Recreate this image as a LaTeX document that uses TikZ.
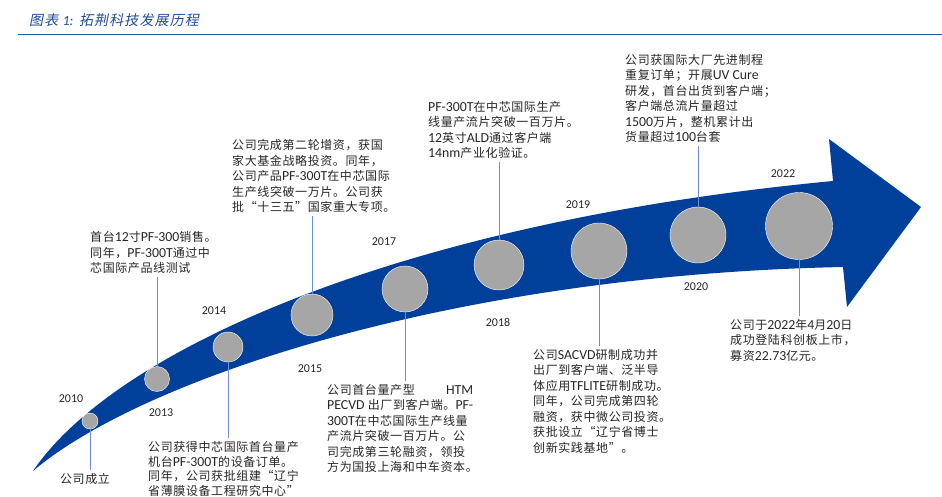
\documentclass[tikz,border=0pt]{standalone}
\usepackage{fontspec}
\newfontfamily\cjkfont[LetterSpace=5]{Noto Sans CJK SC}
\newfontfamily\cjkslant[FakeSlant=0.2,LetterSpace=8]{Noto Sans CJK SC}
\newfontfamily\latfont[Scale=1.15]{Carlito}
\newfontfamily\yearfont{Carlito}
\newcommand{\lat}[1]{{\latfont #1}}
\usetikzlibrary{positioning}
\definecolor{arrowblue}{HTML}{00409A}
\definecolor{dotgray}{HTML}{A6A6A6}
\definecolor{linkblue}{HTML}{6A8FD8}
\definecolor{titleblue}{HTML}{1F4A9C}
\definecolor{ruleblue}{HTML}{2457A8}

\begin{document}
\begin{tikzpicture}[x=1pt, y=-1pt,
    dot/.style={circle, fill=dotgray, draw=white, line width=0.4pt, inner sep=0pt},
    year/.style={font=\yearfont\fontsize{12}{13}\selectfont, text=black!85},
    note/.style={align=left, inner xsep=0pt, inner ysep=3pt, font=\cjkfont\fontsize{12}{15.5}\selectfont, text=black!85},
    link/.style={draw=linkblue, line width=0.8pt},
]
\useasboundingbox (0,0) rectangle (942,496);

\node[anchor=west, inner sep=0pt, text=titleblue, font=\cjkslant\fontsize{14}{16}\selectfont] (title) at (29,20) {图表 {\yearfont\itshape 1:} 拓荆科技发展历程};
\draw[ruleblue, line width=1.7pt] (18,34.5) -- (942,34.5);

\fill[arrowblue] (33,471) .. controls (115,350) and (400,222) .. (833,181) -- (829,139) -- (921,207) -- (847,307) -- (843,267) .. controls (450,275) and (140,380) .. (33,471) -- cycle;

\node[dot, minimum size=16pt] (c2010) at (90,421) {};
\node[dot, minimum size=25pt] (c2013) at (157,379) {};
\node[dot, minimum size=30pt] (c2014) at (228,347) {};
\node[dot, minimum size=42pt] (c2015) at (312,315) {};
\node[dot, minimum size=46pt] (c2017) at (405,289) {};
\node[dot, minimum size=50pt] (c2018) at (499,265) {};
\node[dot, minimum size=56pt] (c2019) at (599,251) {};
\node[dot, minimum size=56pt] (c2020) at (698,235) {};
\node[dot, minimum size=67pt] (c2022) at (799,226) {};

\node[year] (y2010) at (71,399) {2010};
\node[year] (y2013) at (161,413) {2013};
\node[year] (y2014) at (214,311) {2014};
\node[year] (y2015) at (310,369) {2015};
\node[year] (y2017) at (384,242) {2017};
\node[year] (y2018) at (498,322) {2018};
\node[year] (y2019) at (578,205) {2019};
\node[year] (y2020) at (696,287) {2020};
\node[year] (y2022) at (783,174) {2022};

\node[note, anchor=north] (t2010) at (85,470) {公司成立};
\node[note, anchor=south west] (t2013) at (90,277) {首台\lat{12}寸\lat{PF-300}销售。\\同年，\lat{PF-300T}通过中\\芯国际产品线测试};
\node[note, anchor=north west, font=\cjkfont\fontsize{12}{14.7}\selectfont] (t2014) at (148,438) {公司获得中芯国际首台量产\\机台\lat{PF-300T}的设备订单。\\同年，公司获批组建“辽宁\\省薄膜设备工程研究中心”};
\node[note, anchor=south west] (t2015) at (232,216) {公司完成第二轮增资，获国\\家大基金战略投资。同年，\\公司产品\lat{PF-300T}在中芯国际\\生产线突破一万片。公司获\\批“十三五”国家重大专项。};
\node[note, anchor=north west] (t2017) at (327,381) {\makebox[146pt][l]{公司首台量产型\hfill\lat{HTM}}\\\makebox[146pt][l]{\lat{PECVD} 出厂到客户端。\hfill\lat{PF-}}\\\lat{300T}在中芯国际生产线量\\产流片突破一百万片。公\\司完成第三轮融资，领投\\方为国投上海和中车资本。};
\node[note, anchor=south west] (t2018) at (428,162) {\lat{PF-300T}在中芯国际生产\\线量产流片突破一百万片。\\\lat{12}英寸\lat{ALD}通过客户端\\\lat{14nm}产业化验证。};
\node[note, anchor=north west] (t2019) at (533,346) {公司\lat{SACVD}研制成功并\\出厂到客户端、泛半导\\体应用\lat{TFLITE}研制成功。\\同年，公司完成第四轮\\融资，获中微公司投资。\\获批设立“辽宁省博士\\创新实践基地”。};
\node[note, anchor=south west] (t2020) at (625,146) {公司获国际大厂先进制程\\重复订单；开展\lat{UV Cure}\\研发，首台出货到客户端；\\客户端总流片量超过\\\lat{1500}万片，整机累计出\\货量超过\lat{100}台套};
\node[note, anchor=north west] (t2022) at (730,316) {公司于\lat{2022}年\lat{4}月\lat{20}日\\成功登陆科创板上市，\\募资\lat{22.73}亿元。};

\draw[link] (c2010.south) -- (c2010.south |- t2010.north);
\draw[link] (c2013.north) -- (c2013.north |- t2013.south);
\draw[link] (c2014.south) -- (c2014.south |- t2014.north);
\draw[link] (c2015.north) -- (c2015.north |- t2015.south);
\draw[link] (c2017.south) -- (c2017.south |- t2017.north);
\draw[link] (c2018.north) -- (c2018.north |- t2018.south);
\draw[link] (c2019.south) -- (c2019.south |- t2019.north);
\draw[link] (c2020.north) -- (c2020.north |- t2020.south);
\draw[link] (c2022.south) -- (c2022.south |- t2022.north);
\end{tikzpicture}
\end{document}
